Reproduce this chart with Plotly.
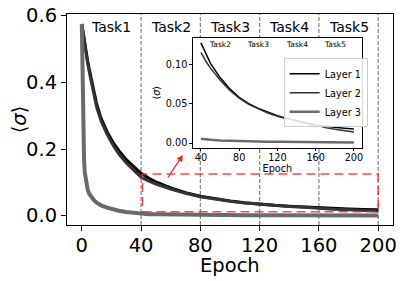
import plotly.graph_objects as go

# ---------------- data ----------------
epochs = [0, 0.3, 0.6, 1, 1.5, 2, 3, 4, 5, 6.5, 8, 10, 13, 17, 21, 25, 30, 35,
          40, 45, 50, 60, 70, 80, 90, 100, 110, 120, 130, 140, 150, 158, 160,
          162, 170, 180, 190, 200]

layer1 = [0.575, 0.566, 0.557, 0.546, 0.532, 0.518, 0.490, 0.462, 0.440, 0.408,
          0.378, 0.335, 0.292, 0.252, 0.220, 0.195, 0.168, 0.146,
          0.127, 0.113, 0.101, 0.083, 0.069, 0.058, 0.050, 0.044, 0.039, 0.0345,
          0.031, 0.028, 0.0255, 0.0235, 0.0230,
          0.0226, 0.0212, 0.0199, 0.0188, 0.0178]

layer2 = [0.575, 0.565, 0.555, 0.543, 0.528, 0.513, 0.484, 0.455, 0.432, 0.400,
          0.370, 0.326, 0.284, 0.245, 0.212, 0.185, 0.158, 0.135,
          0.115, 0.104, 0.095, 0.080, 0.067, 0.057, 0.049, 0.043, 0.038, 0.034,
          0.0305, 0.0275, 0.0250, 0.0225, 0.0210,
          0.0225, 0.0195, 0.0175, 0.0157, 0.0140]

layer3 = [0.575, 0.440, 0.330, 0.240, 0.170, 0.130, 0.095, 0.077, 0.066, 0.055,
          0.047, 0.039, 0.031, 0.024, 0.019, 0.015, 0.011, 0.008,
          0.0055, 0.0045, 0.0040, 0.0032, 0.0027, 0.0023, 0.0020, 0.0018, 0.0016,
          0.0015, 0.0014, 0.0013, 0.0012, 0.0011, 0.0011,
          0.0011, 0.0010, 0.0009, 0.0009, 0.0008]

layer_names = ["Layer 1", "Layer 2", "Layer 3"]
layer_colors = ["#000000", "#333333", "#6a6a6a"]
task_names = ["Task1", "Task2", "Task3", "Task4", "Task5"]
task_centers = [20, 60, 100, 140, 180]
task_bounds = [40, 80, 120, 160, 200]
x_ticks = [0, 40, 80, 120, 160, 200]
y_ticks = [0.0, 0.2, 0.4, 0.6]
y_ticktext = ["0.0", "0.2", "0.4", "0.6"]
inset_x_ticks = [40, 80, 120, 160, 200]
inset_y_ticks = [0.0, 0.05, 0.10]
inset_y_ticktext = ["0.00", "0.05", "0.10"]
zoom_box = dict(x0=41, x1=200, y0=0.012, y1=0.125)
arrow_tail = (57.4, 0.110)
arrow_head = (68.2, 0.182)

FONT = "DejaVu Sans"
series = [layer1, layer2, layer3]
main_widths = [3, 3, 4]
inset_widths = [1.5, 1.5, 2.5]

fig = go.Figure()

# main curves
for name, ys, col, w in zip(layer_names, series, layer_colors, main_widths):
    fig.add_trace(go.Scatter(x=epochs, y=ys, mode="lines", name=name,
                             line=dict(color=col, width=w), showlegend=False,
                             xaxis="x", yaxis="y", hoverinfo="skip"))

# inset curves (epochs >= 40)
for name, ys, col, w in zip(layer_names, series, layer_colors, inset_widths):
    xs = [e for e in epochs if e >= 40]
    yy = [v for e, v in zip(epochs, ys) if e >= 40]
    fig.add_trace(go.Scatter(x=xs, y=yy, mode="lines", name=name,
                             line=dict(color=col, width=w), showlegend=True,
                             xaxis="x2", yaxis="y2", hoverinfo="skip"))

shapes = []
for b in task_bounds:
    shapes.append(dict(type="line", xref="x", yref="y domain", x0=b, x1=b,
                       y0=0, y1=1, layer="below",
                       line=dict(color="#808080", width=1.2, dash="4px,2px")))
    shapes.append(dict(type="line", xref="x2", yref="y2 domain", x0=b, x1=b,
                       y0=0, y1=1, layer="below",
                       line=dict(color="#888888", width=0.8, dash="3px,2px")))
shapes.append(dict(type="rect", xref="x", yref="y", layer="above",
                   x0=zoom_box["x0"], x1=zoom_box["x1"],
                   y0=zoom_box["y0"], y1=zoom_box["y1"],
                   line=dict(color="rgba(255,40,40,0.85)", width=1.5, dash="9px,5px"),
                   fillcolor="rgba(0,0,0,0)"))

annotations = []
for t, c in zip(task_names, task_centers):
    annotations.append(dict(text=t, x=c, y=0.567, xref="x", yref="y",
                            showarrow=False, font=dict(family=FONT, size=14, color="black")))
for t, c in zip(task_names[1:], task_centers[1:]):
    annotations.append(dict(text=t, x=c, y=0.1244, xref="x2", yref="y2",
                            showarrow=False, font=dict(family=FONT, size=7.5, color="black")))
annotations.append(dict(text="", x=arrow_head[0], y=arrow_head[1], xref="x", yref="y",
                        ax=arrow_tail[0], ay=arrow_tail[1], axref="x", ayref="y",
                        showarrow=True, arrowhead=2, arrowsize=1, arrowwidth=1.3,
                        arrowcolor="#ff2020"))
# main x-axis title
annotations.append(dict(text="Epoch", x=0.5, y=-0.19, xref="paper", yref="paper",
                        xanchor="center", yanchor="middle", showarrow=False,
                        font=dict(family=FONT, size=19.5, color="black")))

axis_common = dict(showline=True, linecolor="black", mirror=True, showgrid=False,
                   zeroline=False, ticks="outside", tickcolor="black",
                   automargin=False, ticklabeloverflow="allow")

# page body adds an 8px offset; margins compensate for it
fig.update_layout(
    width=405, height=281,
    margin=dict(l=59, r=19.5, t=6, b=63.5, autoexpand=False),
    paper_bgcolor="white", plot_bgcolor="white",
    font=dict(family=FONT, color="black"),
    xaxis=dict(domain=[0, 1], range=[-10, 210], tickvals=x_ticks, ticklen=5,
               tickwidth=1.1, linewidth=1.1, ticklabelstandoff=-2,
               tickfont=dict(size=19.5), anchor="y",
               **axis_common),
    yaxis=dict(domain=[0, 1], range=[-0.028, 0.605], tickvals=y_ticks,
               ticktext=y_ticktext, ticklen=5, tickwidth=1.1, linewidth=1.1,
               tickfont=dict(size=19.5), anchor="x",
               title=dict(text="⟨<i>σ</i>⟩", font=dict(size=19.5), standoff=9),
               **axis_common),
    xaxis2=dict(domain=[0.3874, 0.9035], range=[32, 208], tickvals=inset_x_ticks,
                ticklen=3, tickwidth=0.8, linewidth=0.8, anchor="y2",
                tickfont=dict(size=9.7), ticklabelstandoff=-2,
                title=dict(text="Epoch", font=dict(size=9.7), standoff=0),
                **axis_common),
    yaxis2=dict(domain=[0.3669, 0.8865], range=[-0.0058, 0.1333],
                tickvals=inset_y_ticks, ticktext=inset_y_ticktext,
                ticklen=3, tickwidth=0.8, linewidth=0.8, anchor="x2",
                tickfont=dict(size=9.7),
                title=dict(text="⟨<i>σ</i>⟩", font=dict(size=9.7), standoff=3),
                **axis_common),
    legend=dict(x=0.6646, y=0.6265, xanchor="left", yanchor="middle",
                bgcolor="rgba(255,255,255,0.85)", bordercolor="#cccccc",
                borderwidth=1, font=dict(family=FONT, size=9.7),
                tracegroupgap=0),
    shapes=shapes,
    annotations=annotations,
)

fig.write_html("out.html")
